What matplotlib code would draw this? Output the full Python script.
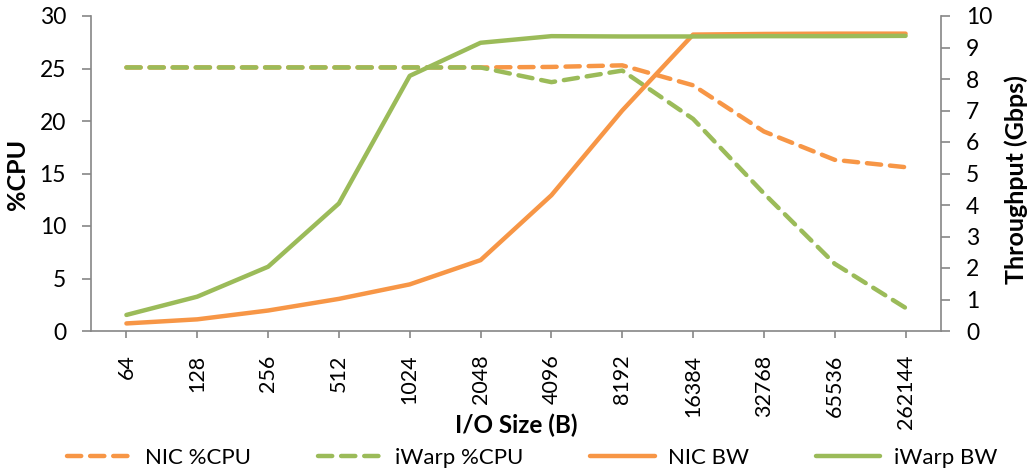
import matplotlib
matplotlib.use("Agg")
import matplotlib.pyplot as plt
from matplotlib.lines import Line2D

plt.rcParams['font.family'] = ['Lato', 'DejaVu Sans']

io_sizes = ["64", "128", "256", "512", "1024", "2048", "4096", "8192",
            "16384", "32768", "65536", "262144"]
nic_cpu = [25.1, 25.1, 25.1, 25.1, 25.1, 25.1, 25.15, 25.3, 23.4, 19.0, 16.3, 15.6]
iwarp_cpu = [25.1, 25.1, 25.1, 25.1, 25.1, 25.1, 23.7, 24.8, 20.2, 13.1, 6.4, 2.2]
nic_bw = [0.24, 0.37, 0.65, 1.02, 1.48, 2.25, 4.31, 7.0, 9.41, 9.43, 9.44, 9.44]
iwarp_bw = [0.51, 1.09, 2.04, 4.05, 8.1, 9.15, 9.36, 9.35, 9.35, 9.36, 9.36, 9.37]

ORANGE = "#F79646"
GREEN = "#9BBB59"
GREY = "#868686"

W, H = 1032, 472
fig = plt.figure(figsize=(W/100, H/100), dpi=100)
ax = fig.add_axes([91/W, 1-331/H, (941-91)/W, (331-16)/H])
ax2 = ax.twinx()

x = list(range(len(io_sizes)))
lw = 3.2
dash = (3.2, 2.0)
ax.plot(x, nic_cpu, color=ORANGE, lw=lw, linestyle=(0, dash), dash_capstyle='round')
ax.plot(x, iwarp_cpu, color=GREEN, lw=lw, linestyle=(0, dash), dash_capstyle='round')
ax2.plot(x, nic_bw, color=ORANGE, lw=lw, solid_capstyle='round')
ax2.plot(x, iwarp_bw, color=GREEN, lw=lw, solid_capstyle='round')

ax.set_xlim(-0.5, len(io_sizes) - 0.5)
ax.set_ylim(0, 30)
ax2.set_ylim(0, 10)
ax.set_yticks(range(0, 31, 5))
ax2.set_yticks(range(0, 11, 1))
ax.set_xticks(x)
ax.set_xticklabels(io_sizes, rotation=90, fontsize=15.5)

for a in (ax, ax2):
    for s in a.spines.values():
        s.set_visible(False)
    a.tick_params(colors=GREY, labelcolor='black', labelsize=16.5, width=1.2,
                  length=6.5, pad=11.5)
ax.tick_params(axis='x', labelsize=15.5, length=5, pad=12)
ax.spines['left'].set_visible(True)
ax.spines['bottom'].set_visible(True)
ax2.spines['right'].set_visible(True)
for s in (ax.spines['left'], ax.spines['bottom'], ax2.spines['right']):
    s.set_color(GREY)
    s.set_linewidth(1.2)

fig.text(17/W, 1-174/H, "%CPU", fontsize=18, fontweight='bold',
         rotation=90, ha='center', va='center')
fig.text(1016/W, 1-180/H, "Throughput (Gbps)", fontsize=18, fontweight='bold',
         rotation=90, ha='center', va='center')
fig.text(516/W, 1-425/H, "I/O Size (B)", fontsize=17.5, fontweight='bold',
         ha='center', va='center')

handles = [
    Line2D([], [], color=ORANGE, lw=lw, linestyle=(0, dash), dash_capstyle='round'),
    Line2D([], [], color=GREEN, lw=lw, linestyle=(0, dash), dash_capstyle='round'),
    Line2D([], [], color=ORANGE, lw=lw, solid_capstyle='round'),
    Line2D([], [], color=GREEN, lw=lw, solid_capstyle='round'),
]
labels = ["NIC %CPU", "iWarp %CPU", "NIC BW", "iWarp BW"]
fig.legend(handles, labels, loc='center', bbox_to_anchor=(532/W, 1-458/H),
           ncol=4, frameon=False, fontsize=16, handlelength=2.9,
           handletextpad=0.6, columnspacing=3.0)

fig.savefig("out.png", dpi=100)
